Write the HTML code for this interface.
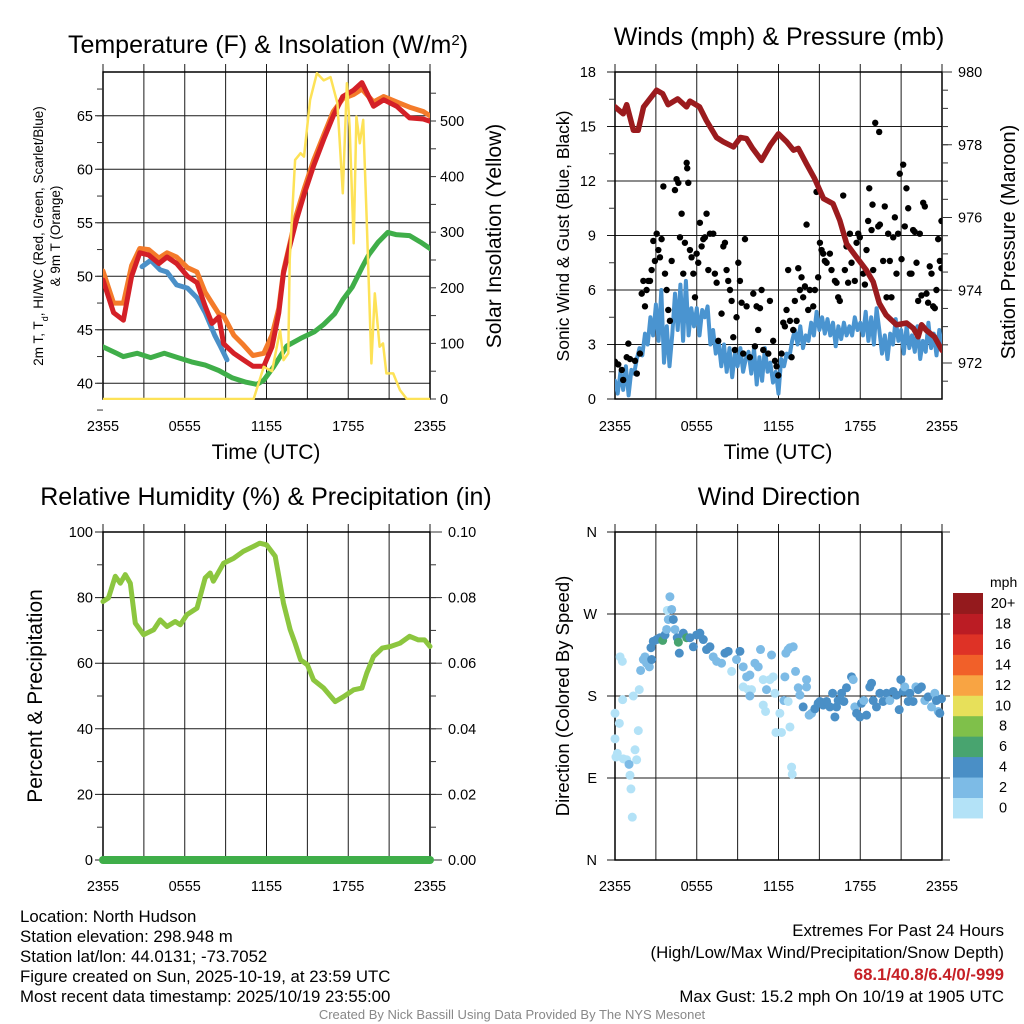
<!DOCTYPE html>
<html><head><meta charset="utf-8"><style>
html,body{margin:0;padding:0;background:#fff;}
svg{display:block;font-family:"Liberation Sans",sans-serif;}
</style></head><body>
<svg id="chart" width="1024" height="1024" viewBox="0 0 1024 1024" xmlns="http://www.w3.org/2000/svg">
<rect x="0" y="0" width="1024" height="1024" fill="#fff"/>
<g id="layers"></g>
<text x="268" y="53" font-size="25" text-anchor="middle">Temperature (F) &amp; Insolation (W/m<tspan baseline-shift="super" font-size="15">2</tspan>)</text>
<text x="779" y="45" font-size="25" text-anchor="middle">Winds (mph) &amp; Pressure (mb)</text>
<text x="266" y="505" font-size="25" text-anchor="middle">Relative Humidity (%) &amp; Precipitation (in)</text>
<text x="779" y="505" font-size="25" text-anchor="middle">Wind Direction</text>
<text transform="translate(43,236) rotate(-90)" font-size="13.5" text-anchor="middle">2m T, T<tspan baseline-shift="sub" font-size="9">d</tspan>, HI/WC (Red, Green, Scarlet/Blue)</text>
<text transform="translate(60,236) rotate(-90)" font-size="13.5" text-anchor="middle">&amp; 9m T (Orange)</text>
<text transform="translate(501,236) rotate(-90)" font-size="21" text-anchor="middle">Solar Insolation (Yellow)</text>
<text transform="translate(569,236) rotate(-90)" font-size="17.5" text-anchor="middle">Sonic Wind &amp; Gust (Blue, Black)</text>
<text transform="translate(1015,242) rotate(-90)" font-size="20" text-anchor="middle">Station Pressure (Maroon)</text>
<text transform="translate(42,696) rotate(-90)" font-size="21" text-anchor="middle">Percent &amp; Precipitation</text>
<text transform="translate(569,696) rotate(-90)" font-size="18.5" text-anchor="middle">Direction (Colored By Speed)</text>
<text x="266" y="459" font-size="21" text-anchor="middle">Time (UTC)</text>
<text x="778" y="459" font-size="21" text-anchor="middle">Time (UTC)</text>
<text x="990" y="587" font-size="14">mph</text>
<g font-size="16.8">
<text x="20" y="922">Location: North Hudson</text>
<text x="20" y="942">Station elevation: 298.948 m</text>
<text x="20" y="962">Station lat/lon: 44.0131; -73.7052</text>
<text x="20" y="982">Figure created on Sun, 2025-10-19, at 23:59 UTC</text>
<text x="20" y="1002">Most recent data timestamp: 2025/10/19 23:55:00</text>
</g>
<g font-size="16.8" text-anchor="end">
<text x="1004" y="936">Extremes For Past 24 Hours</text>
<text x="1004" y="958">(High/Low/Max Wind/Precipitation/Snow Depth)</text>
<text x="1004" y="980" fill="#c62026" font-weight="bold">68.1/40.8/6.4/0/-999</text>
<text x="1004" y="1002">Max Gust: 15.2 mph On 10/19 at 1905 UTC</text>
</g>
<text x="512" y="1019" font-size="13" fill="#888" text-anchor="middle">Created By Nick Bassill Using Data Provided By The NYS Mesonet</text>
</svg>
<script>
// ---- data ----
const xTickLabels = ["2355","0555","1155","1755","2355"];
const tempTicks = [40,45,50,55,60,65];
const solarTicks = [0,100,200,300,400,500];
const windTicks = [0,3,6,9,12,15,18];
const pressTicks = [972,974,976,978,980];
const rhTicks = [0,20,40,60,80,100];
const precipTicks = ["0.00","0.02","0.04","0.06","0.08","0.10"];
const dirTickLabels = ["N","E","S","W","N"];
const speedBinLabels = ["0","2","4","6","8","10","12","14","16","18","20+"];
const speedBinColors = ["#b3e2f7","#7dbbe6","#4a8fc6","#48a46f","#7fc04a","#e7e05a","#f8a443","#f16029","#de3226","#bb1c24","#941a1d"];

const tHours = [0,0.78,1.5,2.1,2.7,3.35,4.1,4.7,5.4,6.2,6.9,7.5,8,8.5,8.85,9.6,10.3,11,11.8,12.4,12.9,13.25,13.7,14.2,14.8,15.45,16.2,16.9,17.6,18.4,19,19.85,20.6,21.55,22.5,23.5,24];
const tempRed = [49.65,46.6,45.9,50,52.2,52,51.2,51.8,51.2,50,49.4,47.2,45.6,46.2,43.7,42.8,42.2,41.6,41.6,43.4,46.6,50.3,52.8,55.3,57.8,60.3,62.8,65,66.8,67.4,68.1,65.9,66.5,65.9,64.8,64.7,64.5];
const temp9m = [50.5,47.5,47.5,51,52.6,52.5,51.7,52.2,51.8,50.8,50.4,48.5,47.5,46.5,46.3,44.5,43.6,42.6,42.8,44.5,47,50.5,53,55.8,58.3,60.8,63.2,65.4,66.6,67,67.5,66.3,66.8,66.3,65.8,65.4,65];
const hiHours = [2.86,3.5,4.2,4.7,5.4,6.2,6.9,7.5,8.2,8.6,9.1];
const hiwcValues = [50.9,51.5,50.6,50.4,49.2,48.9,48,46.6,44.5,43.5,42.2];
const tdHours = [0,1,1.5,2.5,3.5,4.5,5.5,6.5,7.5,8.5,9.5,10.5,11.3,11.8,12.5,13.5,14.5,15.5,16.2,17,17.6,18.3,19,19.5,20.2,20.9,21.5,22.5,23.3,24];
const dewpoint = [43.4,42.8,42.5,42.8,42.4,42.8,42.4,42,41.7,41.2,40.5,40.1,39.9,40.3,41.5,43.5,44.2,44.8,45.5,46.5,47.8,49,50.8,52,53.2,54.1,53.9,53.8,53.2,52.6];
const solarHours = [0,11.05,11.8,12.4,13,13.25,13.6,13.7,14.1,14.5,14.75,15.2,15.7,16.2,16.7,17.2,17.6,17.9,18.1,18.4,18.6,18.85,19.1,19.35,19.7,19.95,20.3,20.55,20.8,21.3,21.8,22.3,24];
const solarValues = [0,0,58,50,124,70,82,250,430,442,436,538,586,573,579,532,370,568,490,280,508,460,502,328,64,190,94,100,46,46,16,0,0];

const presHours = [0,0.6,0.86,1.35,1.7,2.1,3.05,3.5,3.9,4.6,5.25,5.5,6.2,6.7,7.45,7.95,8.7,9.2,9.65,10.1,10.75,11.4,12,12.6,13.1,13.45,14.05,14.65,15.3,16,16.5,17,17.7,18.45,18.95,19.4,19.9,20.65,21.4,21.9,22.25,22.5,22.85,23.45,24];
const pressure = [979.04,978.85,979.1,978.4,978.4,979.04,979.5,979.4,979.1,979.26,979.04,979.2,979.04,978.67,978.2,978.08,977.94,978.2,978.17,977.9,977.57,977.99,978.3,978.08,977.85,977.9,977.48,977.07,976.52,976.38,975.92,975.28,974.92,974.55,974.23,973.64,973.32,973.05,973.1,972.95,972.72,973.05,972.9,972.72,972.35];
const windHours = [0,0.2,0.4,0.6,0.8,1,1.2,1.4,1.6,1.8,2,2.2,2.4,2.6,2.8,3,3.2,3.4,3.6,3.8,4,4.2,4.4,4.6,4.8,5,5.2,5.4,5.6,5.8,6,6.2,6.4,6.6,6.8,7,7.2,7.4,7.6,7.8,8,8.2,8.4,8.6,8.8,9,9.2,9.4,9.6,9.8,10,10.2,10.4,10.6,10.8,11,11.2,11.4,11.6,11.8,12,12.2,12.4,12.6,12.8,13,13.2,13.4,13.6,13.8,14,14.2,14.4,14.6,14.8,15,15.2,15.4,15.6,15.8,16,16.2,16.4,16.6,16.8,17,17.2,17.4,17.6,17.8,18,18.2,18.4,18.6,18.8,19,19.2,19.4,19.6,19.8,20,20.2,20.4,20.6,20.8,21,21.2,21.4,21.6,21.8,22,22.2,22.4,22.6,22.8,23,23.2,23.4,23.6,23.8,24];
const windSpeed = [1.0,0.3,1.5,0.5,1.8,0.2,1.6,1.4,2.2,2.8,2.4,3.6,3.0,4.5,3.5,5.2,3.2,6.0,2.0,4.0,1.8,3.5,5.8,3.8,6.3,3.2,6.5,3.5,5.0,4.0,5.0,3.5,4.9,4.5,5.1,3.0,3.8,2.5,3.2,1.8,3.0,1.5,2.8,1.2,2.5,1.8,2.8,1.5,2.2,2.6,1.4,2.8,0.8,2.3,1.0,2.8,1.5,2.0,0.9,1.5,0.3,2.2,1.8,2.5,2.3,3.2,3.8,3.0,4.0,2.8,3.5,3.2,4.2,3.5,4.8,3.8,4.5,3.6,4.4,3.5,4.2,2.9,4.0,3.3,4.2,3.5,4.0,3.5,4.5,3.8,4.2,3.5,4.8,3.2,4.5,3.0,5.0,3.8,2.5,3.5,2.2,3.6,3.0,4.4,3.2,3.8,2.5,4.0,2.8,3.5,2.6,4.0,2.2,3.2,2.6,4.2,2.8,3.6,2.4,3.8,2.8];
const gustHours = [0,0.24,0.5,0.6,0.86,0.98,1.1,1.47,1.6,1.83,1.96,2.08,2.2,2.32,2.44,2.57,2.69,2.81,2.93,3.06,3.18,3.3,3.42,3.55,3.67,3.79,3.91,4.03,4.16,4.4,4.52,4.65,4.77,4.89,5.01,5.13,5.26,5.3,5.38,5.5,5.62,5.75,5.87,5.99,6.11,6.23,6.36,6.48,6.6,6.72,6.85,6.97,7.21,7.33,7.46,7.58,7.82,7.95,8.07,8.19,8.31,8.44,8.56,8.68,8.8,8.92,9.05,9.17,9.29,9.41,9.54,9.66,9.9,10.15,10.27,10.39,10.51,10.64,10.76,10.88,11.25,11.37,11.61,11.74,11.86,11.98,12.22,12.35,12.47,12.59,12.71,12.84,12.96,13.08,13.2,13.33,13.45,13.57,13.69,13.81,13.94,14.06,14.18,14.3,14.55,14.67,14.79,14.91,15.04,15.16,15.28,15.4,15.53,15.77,15.89,16.14,16.26,16.38,16.5,16.75,16.87,16.99,17.11,17.24,17.36,17.6,17.73,17.85,17.97,18.22,18.34,18.46,18.58,18.66,18.83,18.95,18.9,19.1,19.39,19.32,19.44,19.68,19.8,19.93,20.05,20.17,20.29,20.42,20.54,20.66,20.78,20.9,21.03,21.15,21.27,21.39,21.52,21.64,21.76,21.88,22.0,22.13,22.25,22.37,22.49,22.62,22.74,22.86,22.98,23.1,23.23,23.35,23.47,23.59,23.72,23.84,23.96,23.96];
const gustSpeed = [2.05,1.9,1.6,1.05,2.3,3.05,2.2,2.1,1.4,2.5,5.8,6.5,5.1,6.0,6.5,6.5,7.1,8.7,7.6,9.1,8.2,7.8,8.8,11.7,6.9,6.0,4.9,4.3,7.6,11.5,12.1,11.9,8.9,10.2,6.9,8.6,13.0,12.7,11.9,8.2,7.8,6.9,5.6,8.0,7.5,9.7,8.4,8.8,8.9,10.2,7.1,9.1,9.1,6.9,6.4,3.2,4.7,8.4,8.6,7.1,6.5,6.0,5.4,3.4,2.7,4.5,7.5,6.5,5.3,2.5,8.8,5.1,2.3,5.8,2.9,5.1,3.8,5.0,6.0,2.7,2.5,5.4,3.2,2.1,1.8,1.3,2.5,4.2,4.0,4.9,7.1,4.3,2.3,3.8,5.4,4.3,7.2,6.0,6.7,5.6,6.2,9.6,4.9,6.0,5.1,6.0,11.4,6.7,8.6,8.2,8.0,7.6,7.5,8.0,7.1,6.5,6.4,5.6,5.4,11.2,7.1,8.4,6.4,9.1,7.5,6.5,8.6,9.1,8.9,6.9,6.3,8.2,9.8,11.6,9.3,7.1,10.7,15.2,14.7,9.5,9.6,7.6,10.6,5.6,9.1,7.6,5.6,8.9,10.0,6.9,9.1,12.4,7.7,12.9,9.5,11.6,10.5,6.9,6.9,9.3,9.2,7.5,5.4,9.1,5.7,10.8,10.6,5.8,5.3,7.3,6.9,5.1,5.0,6.0,8.8,7.6,7.2,9.8];

const rhHours = [0,0.4,0.9,1.27,1.64,2.0,2.37,2.98,3.72,4.2,4.7,5.3,5.67,6.16,6.9,7.5,7.87,8.1,8.85,9.6,10.3,11.05,11.5,12.0,12.64,12.9,13.25,13.74,14.1,14.5,15,15.45,16.2,17.04,17.65,18.4,19,19.36,19.85,20.5,21.1,21.8,22.5,23.15,23.6,24];
const rhValues = [78.8,79.9,86.5,84.4,87,84.4,72.2,68.7,70.2,73.2,71.2,72.7,71.7,74.8,76.8,86,87.5,85,90.5,92,94.1,95.6,96.6,96.1,92.6,86.5,78.3,70.2,66.1,61,59.5,54.9,52.4,48.3,49.8,51.9,52.4,57,62,64.6,65.1,66.1,68.2,67.1,67.1,65.1];
const precipHours = [0,24];
const precipValues = [0,0];

const dirHours = [0,0.32,0,0.17,0.07,0.61,0.86,1.03,1.1,1.17,1.27,1.47,1.59,1.71,1.34,0.56,0.37,0.54,1.78,1.88,2.08,2.2,2.32,2.52,2.69,2.64,2.81,3.06,3.3,3.5,3.67,3.79,3.91,4.03,3.84,4.16,4.28,4.4,4.57,4.65,4.72,5.01,5.26,5.5,5.75,5.99,6.23,6.48,6.72,6.97,7.21,7.46,7.82,8.07,8.31,8.56,8.92,9.17,9.41,9.66,9.9,9.41,9.78,10.02,9.9,10.27,10.51,10.68,10.88,11.12,11.37,11.49,11.61,10.88,11.05,11.74,11.81,12.1,12.22,12.47,12.54,12.71,12.84,13.08,12.4,12.71,12.84,12.96,13.01,13.25,13.45,13.57,13.81,14.06,14.06,14.25,14.43,14.67,14.91,15.04,15.28,15.53,15.77,15.97,16.14,16.26,16.38,16.63,16.8,16.99,17.36,17.48,17.6,17.73,17.97,18.09,18.26,18.46,18.7,18.83,18.95,19.19,19.44,19.68,19.93,20.17,20.42,20.66,20.86,20.98,21.15,21.27,21.52,21.64,21.88,22.08,22.25,22.49,22.74,22.98,23.23,23.47,23.72,23.84,23.96,23.59];
const dirDegrees = [161,150,133,117,113,111,110,105,93,78,47,121,110,142,180,176,223,218,187,208,220,223,216,212,220,233,240,242,244,241,247,253,264,289,274,275,264,253,244,239,227,249,244,244,234,247,249,242,231,234,223,218,216,227,229,207,220,229,212,201,203,190,187,187,180,216,212,231,198,187,198,225,201,170,163,183,140,161,140,201,227,231,233,234,175,174,146,102,94,207,189,181,168,198,190,159,161,166,172,174,170,174,168,183,157,168,175,183,174,189,201,198,168,161,157,172,175,159,190,194,175,168,183,174,183,175,185,181,165,198,185,190,174,183,174,190,187,190,175,179,168,183,163,161,177,175];
const dirSpeed = [1,1,1,1,1,1,1,3,1,1,1,1,1,1,1,1,1,1,1,3,3,3,3,3,5,5,5,5,5,7,5,3,3,3,1,3,5,3,5,7,5,5,7,5,5,5,5,5,5,5,3,3,3,5,5,1,3,5,3,3,3,1,1,1,3,3,3,3,1,3,1,3,1,1,1,1,1,1,1,3,3,3,3,3,3,1,1,1,1,3,3,3,5,3,3,3,3,5,5,5,5,5,5,5,5,5,5,5,5,5,5,3,3,5,5,5,3,5,5,5,5,5,5,5,5,3,5,5,5,5,5,3,5,5,5,3,5,5,3,5,3,3,3,5,5];

// ---- drawing ----
const NS = "http://www.w3.org/2000/svg";
const root = document.getElementById("layers");
function mk(tag, attrs, parent) {
  const el = document.createElementNS(NS, tag);
  for (const k in attrs) el.setAttribute(k, attrs[k]);
  (parent || root).appendChild(el);
  return el;
}
function linScale(d0, d1, r0, r1) { return v => r0 + (v - d0) * (r1 - r0) / (d1 - d0); }

const P1 = {x0:103, x1:430, y0:72, y1:399};
const P2 = {x0:615, x1:942, y0:72, y1:399};
const P3 = {x0:103, x1:430, y0:532, y1:860};
const P4 = {x0:615, x1:942, y0:532, y1:860};

const x1s = linScale(0, 24, P1.x0, P1.x1);
const x2s = linScale(0, 24, P2.x0, P2.x1);
const x3s = linScale(0, 24, P3.x0, P3.x1);
const x4s = linScale(0, 24, P4.x0, P4.x1);
const yTemp = linScale(40, 65, 383.3, 115.8);
const ySolar = linScale(0, 500, 399, 121);
const yWind = linScale(0, 18, 399, 72);
const yPres = linScale(972, 980, 363, 72);
const yRh = linScale(0, 100, 860, 532);
const yPrecip = linScale(0, 0.1, 860, 532);
const yDir = linScale(0, 360, 860, 532);

function drawGrid(P, xs, hTicks, ys, name) {
  const g = mk("g", {stroke:"#1a1a1a", "stroke-width":1, fill:"none"});
  
  
  for (let h = 0; h <= 24; h += 3) {
    const l = mk("line", {x1:xs(h), x2:xs(h), y1:P.y0 - 8, y2:P.y1}, g);
    
    
  }
  hTicks.forEach(t => {
    const l = mk("line", {x1:P.x0 - 8, x2:P.x1, y1:ys(t), y2:ys(t)}, g);
    
    
  });
  const f = mk("rect", {x:P.x0, y:P.y0, width:P.x1 - P.x0, height:P.y1 - P.y0, stroke:"#000", "stroke-width":1.5}, g);
  
  
}
function drawXLabels(P, xs, y, name) {
  xTickLabels.forEach((lab, i) => {
    const t = mk("text", {x:xs(i * 6), y:y, "font-size":14.5, "text-anchor":"middle"});
    t.textContent = lab;
    
    
  });
}
function drawYLabels(ticks, labels, ys, x, anchor, name) {
  ticks.forEach((v, i) => {
    const t = mk("text", {x:x, y:ys(v) + 5, "font-size":14.5, "text-anchor":anchor});
    t.textContent = labels ? labels[i] : v;
    
    
  });
}
function drawTicks(x, vals, ys, len, name) {
  const g = mk("g", {stroke:"#333", "stroke-width":1});
  
  
  vals.forEach(v => {
    const l = mk("line", {x1:x, x2:x + len, y1:ys(v), y2:ys(v)}, g);
    
    
  });
}
function range(a, b, s) { const r = []; for (let v = a; v <= b + 1e-9; v += s) r.push(v); return r; }
function drawLine(xs, ys, hs, vs, color, w, name) {
  const d = hs.map((h, i) => (i ? "L" : "M") + xs(h).toFixed(1) + "," + ys(vs[i]).toFixed(1)).join("");
  const p = mk("path", {d:d, fill:"none", stroke:color, "stroke-width":w, "stroke-linejoin":"round", "stroke-linecap":"round"});
  
  
  return p;
}
function clip(P, id) {
  const c = mk("clipPath", {id:id});
  const r = mk("rect", {x:P.x0, y:P.y0, width:P.x1 - P.x0, height:P.y1 - P.y0 + 1}, c);
  
  
  
  
}

// Panel 1
drawGrid(P1, x1s, tempTicks, yTemp, "temp");
drawTicks(P1.x0, range(37.5, 67.5, 2.5), yTemp, -6, "temp-minor");
drawTicks(P1.x1, range(0, 550, 50), ySolar, 6, "solar");
drawYLabels(tempTicks, null, yTemp, 93, "end", "temp-y");
drawYLabels(solarTicks, null, ySolar, 440, "start", "solar-y");
drawXLabels(P1, x1s, 431, "temp");
clip(P1, "clip1");
const g1 = mk("g", {"clip-path":"url(#clip1)"});


root.appendChild(g1);
const s1 = [
  drawLine(x1s, yTemp, tdHours, dewpoint, "#3fae49", 5, "dewpoint-line"),
  drawLine(x1s, yTemp, tHours, temp9m, "#f47b2a", 5, "temp-9m-line"),
  drawLine(x1s, yTemp, hiHours, hiwcValues, "#4a90c8", 5, "heat-index-line"),
  drawLine(x1s, yTemp, tHours, tempRed, "#d42027", 5, "temp-2m-line"),
  drawLine(x1s, ySolar, solarHours, solarValues, "#fde257", 2.5, "solar-line")
];
s1.forEach(p => g1.appendChild(p));

// Panel 2
drawGrid(P2, x2s, windTicks, yWind, "wind");
drawTicks(P2.x0, range(1.5, 16.5, 3), yWind, -6, "wind-minor");
drawTicks(P2.x1, range(971.5, 980, 0.5), yPres, 6, "pressure-minor");
drawTicks(P2.x1, pressTicks, yPres, 10, "pressure");
drawYLabels(windTicks, null, yWind, 596, "end", "wind-y");
drawYLabels(pressTicks, null, yPres, 958, "start", "pressure-y");
drawXLabels(P2, x2s, 431, "wind");
clip(P2, "clip2");
const g2 = mk("g", {"clip-path":"url(#clip2)"});


g2.appendChild(drawLine(x2s, yWind, windHours, windSpeed, "#4a94d0", 4, "sonic-wind-line"));
gustHours.forEach((h, i) => {
  const c = mk("circle", {cx:x2s(h), cy:yWind(gustSpeed[i]), r:3.2, fill:"#000"}, g2);
  
  
});
g2.appendChild(drawLine(x2s, yPres, presHours, pressure, "#9b1b1e", 5.5, "pressure-line"));

// Panel 3
drawGrid(P3, x3s, rhTicks, yRh, "rh");
drawTicks(P3.x0, range(10, 90, 20), yRh, -6, "rh-minor");
drawTicks(P3.x1, range(0, 0.1, 0.01), yPrecip, 6, "precip-minor");
drawTicks(P3.x1, range(0, 0.1, 0.02), yPrecip, 12, "precip");
drawYLabels(rhTicks, null, yRh, 93, "end", "rh-y");
drawYLabels(range(0, 0.1, 0.02), precipTicks, yPrecip, 448, "start", "precip-y");
drawXLabels(P3, x3s, 891, "rh");
drawLine(x3s, yRh, rhHours, rhValues, "#8cc63f", 5, "rh-line");
drawLine(x3s, yPrecip, precipHours, precipValues, "#3fae49", 8, "precip-line");

// Panel 4
const dirTickVals = [0, 90, 180, 270, 360];
drawGrid(P4, x4s, dirTickVals, yDir, "direction");
drawTicks(P4.x1, dirTickVals, yDir, 8, "direction-right");
drawYLabels(dirTickVals, dirTickLabels, yDir, 597, "end", "direction-y");
drawXLabels(P4, x4s, 891, "direction");
dirHours.forEach((h, i) => {
  const sp = (dirSpeed[i] === undefined) ? 5 : dirSpeed[i];
  const bin = Math.max(0, Math.min(10, Math.floor(sp / 2)));
  const c = mk("circle", {cx:x4s(h), cy:yDir(dirDegrees[i]), r:4.5, fill:speedBinColors[bin]});
  
  
});
// colorbar
const cbTop = 593, cbBox = 20.45;
speedBinColors.forEach((col, i) => {
  const k = speedBinColors.length - 1 - i;
  const r = mk("rect", {x:953, y:cbTop + k * cbBox, width:30, height:cbBox + 0.5, fill:col});
  
  
  const t = mk("text", {x:1003, y:cbTop + k * cbBox + 15, "font-size":14.5, "text-anchor":"middle"});
  t.textContent = speedBinLabels[i];
  
  
});
</script>
</body></html>
